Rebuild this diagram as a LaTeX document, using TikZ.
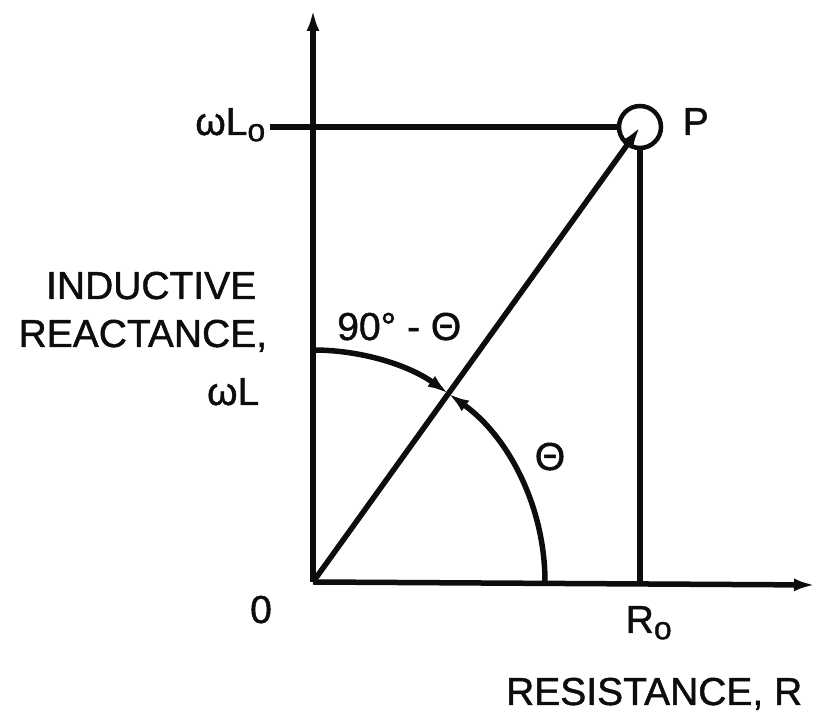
\documentclass[tikz,border=0pt]{standalone}
\usepackage{fontspec}
\setmainfont{Liberation Sans}[FakeBold=1.2]
\usepackage{xcolor}
\usepackage{tikz}
\usetikzlibrary{arrows.meta,positioning,calc}
\definecolor{inkline}{rgb}{0.05,0.05,0.05}
\newcommand{\lowsub}[1]{\raisebox{-0.3ex}{\fontsize{32}{32}\selectfont #1}}

\begin{document}
\begin{tikzpicture}[x=1pt, y=1pt, >={Latex[length=21pt,width=13pt]},
    line width=5.5pt, draw=inkline,
    font=\fontsize{39}{48}\selectfont,
    lab/.style={inner sep=0pt, text=inkline}]
  \useasboundingbox (0,0) rectangle (822,722);
  % axes
  \coordinate (O) at (313,140);
  \coordinate (ytop) at (313,712);
  \coordinate (xend) at (815,137);
  \draw[->] (O) -- (ytop);
  \draw[->] (O) -- (xend);
  % point P and its projections
  \node[circle, draw=inkline, line width=4.5pt, minimum size=42pt, inner sep=0pt] (ringP) at (640,595) {};
  \coordinate (wLstart) at (270,595);
  \coordinate (Rfoot) at (640,140);
  \draw (wLstart) -- (ringP.west);
  \draw (ringP.south) -- (Rfoot);
  \draw[->] (O) -- (ringP.center);
  % angle arcs
  \draw[->] ($(O)+(90:232)$) arc[start angle=90, end angle=54.3, radius=232];
  \draw[->] ($(O)+(0:232)$) arc[start angle=0, end angle=54.3, radius=232];
  % labels
  \node[lab, anchor=base east] (labwLo) at (268,587) {ωL\lowsub{o}};
  \node[lab, anchor=base west] (labP) at (680,587) {P};
  \node[lab, anchor=base east, align=right] (labY) at (259,317)
    {INDUCTIVE\\REACTANCE\rlap{,}\\[10pt]ωL\hspace*{-3pt}};
  \node[lab, anchor=base east] (labcomp) at (464,382) {90° - Θ};
  \node[lab, anchor=base] (labth) at (550,252) {Θ};
  \node[lab, anchor=base] (labO) at (261,99) {0};
  \node[lab, anchor=base west] (labRo) at (623,89) {R\lowsub{o}};
  \node[lab, anchor=base east] (labX) at (805,17) {RESISTANCE, R};
\end{tikzpicture}
\end{document}
